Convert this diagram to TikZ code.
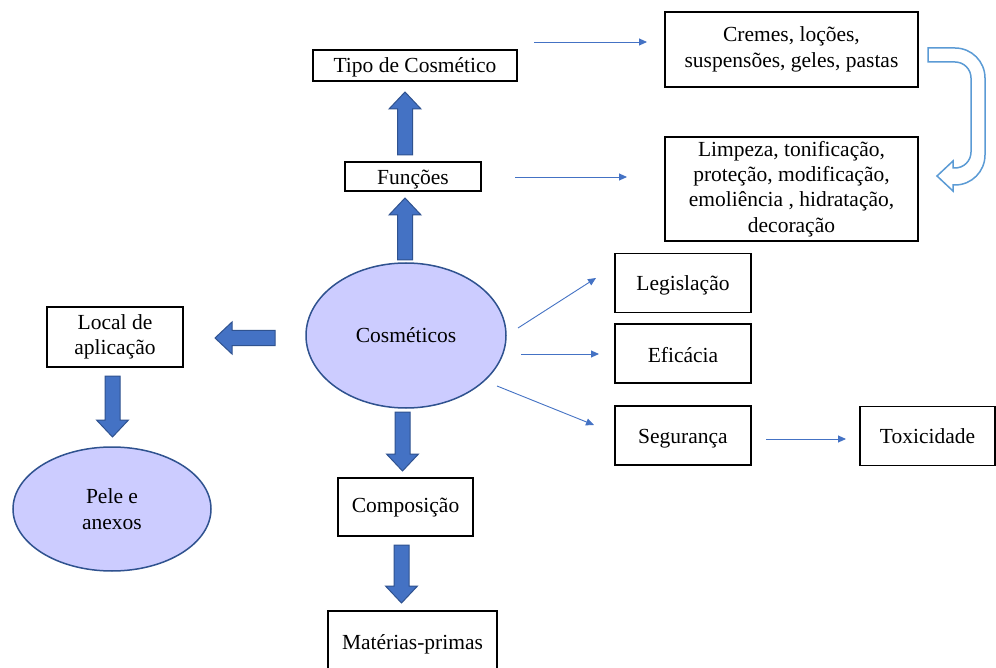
\documentclass[tikz,border=0pt]{standalone}
\usepackage{fontspec}
\setmainfont{Liberation Serif}
\usetikzlibrary{arrows.meta,calc,shapes.geometric}
\definecolor{blk}{HTML}{4472C4}
\definecolor{blkb}{HTML}{2F528F}
\definecolor{ellf}{HTML}{CCCCFF}
\definecolor{uturn}{HTML}{5B9BD5}
\tikzset{
  txt/.style={font=\fontsize{21.5}{25.3}\selectfont, text=black, align=center, inner sep=0pt},
  box/.style={txt, draw=black, line width=1.5pt, fill=white},
  ell/.style={txt, ellipse, draw=blkb, line width=1.5pt, fill=ellf},
  tdown/.style={execute at begin node={\rule{0pt}{#1}}},
  thinarr/.style={draw=blk, line width=0.9pt, -{Triangle[length=8pt,width=7pt]}},
  blkstyle/.style={fill=blk, draw=blkb, line width=1pt, line join=miter},
  pics/blkarrow/.style={code={
    \draw[blkstyle] (0,-7.5) -- (#1-17,-7.5) -- (#1-17,-16) -- (#1,0) -- (#1-17,16) -- (#1-17,7.5) -- (0,7.5) -- cycle;}}
}
\begin{document}
\begin{tikzpicture}[x=1pt,y=-1pt]
\path[fill=white,use as bounding box] (0,0) rectangle (996,668);
\clip (0,0) rectangle (996,668);

% nodes
\node[box, tdown=19pt, minimum width=204pt, minimum height=31pt] (tipo) at (415,65.5) {Tipo de Cosmético};
\node[box, tdown=19pt, minimum width=253pt, minimum height=75pt] (cremes) at (791.5,49.5) {Cremes, loções,\\suspensões, geles, pastas};
\node[box, tdown=20pt, minimum width=136pt, minimum height=29pt] (funcoes) at (413,176.5) {Funções};
\node[box, tdown=23pt, minimum width=253pt, minimum height=104pt] (limpeza) at (791.5,189) {Limpeza, tonificação,\\proteção, modificação,\\emoliência , hidratação,\\decoração};
\node[ell, minimum width=200pt, minimum height=145pt] (cosm) at (406,335.5) {Cosméticos};
\node[box, minimum width=136pt, minimum height=60pt] (local) at (115,337) {Local de\\aplicação};
\node[ell, tdown=16pt, minimum width=198pt, minimum height=124pt] (pele) at (112,509) {Pele e\\anexos};
\node[box, tdown=16.5pt, minimum width=135pt, minimum height=58pt] (comp) at (405.5,507) {Composição};
\node[box, tdown=23pt, minimum width=169pt, minimum height=58pt] (mat) at (412.5,640) {Matérias-primas};
\node[box, tdown=19pt, minimum width=136pt, minimum height=59pt] (leg) at (683,283) {Legislação};
\node[box, tdown=19pt, minimum width=136pt, minimum height=59pt] (efi) at (683,353.5) {Eficácia};
\node[box, tdown=20.5pt, minimum width=136pt, minimum height=59pt] (seg) at (683,435.5) {Segurança};
\node[box, minimum width=135pt, minimum height=59pt] (tox) at (927.5,436) {Toxicidade};

% thin arrows
\coordinate (t1s) at (534,42);   \coordinate (t1e) at (647,42);
\coordinate (t2s) at (515,177);  \coordinate (t2e) at (627,177);
\coordinate (t3s) at (518,328);  \coordinate (t3e) at (596,278);
\coordinate (t4s) at (521,354);  \coordinate (t4e) at (599,354);
\coordinate (t5s) at (497,386);  \coordinate (t5e) at (594,425);
\coordinate (t6s) at (766,439);  \coordinate (t6e) at (846,439);
\draw[thinarr] (t1s) -- (t1e);
\draw[thinarr] (t2s) -- (t2e);
\draw[thinarr] (t3s) -- (t3e);
\draw[thinarr] (t4s) -- (t4e);
\draw[thinarr] (t5s) -- (t5e);
\draw[thinarr] (t6s) -- (t6e);

% block arrows
\pic[rotate=90] at (405,155) {blkarrow=63};
\pic[rotate=90] at (405,260) {blkarrow=62};
\pic[rotate=180] at (275,338) {blkarrow=60};
\pic[rotate=-90] at (112.5,376) {blkarrow=61};
\pic[rotate=-90] at (402.5,412) {blkarrow=59};
\pic[rotate=-90] at (401.5,545) {blkarrow=58};

% U-turn arrow
\draw[draw=uturn, line width=1.5pt, fill=white, line join=miter]
  (928,48) -- (955,48) arc[start angle=-90, end angle=0, radius=30]
  -- (985,155) arc[start angle=0, end angle=90, radius=30]
  -- (953,185) -- (953,191) -- (937,176) -- (953,161) -- (953,168)
  -- (955,168) arc[start angle=90, end angle=0, radius=16]
  -- (971,78) arc[start angle=0, end angle=-90, radius=16]
  -- (928,62) -- cycle;
\end{tikzpicture}
\end{document}
